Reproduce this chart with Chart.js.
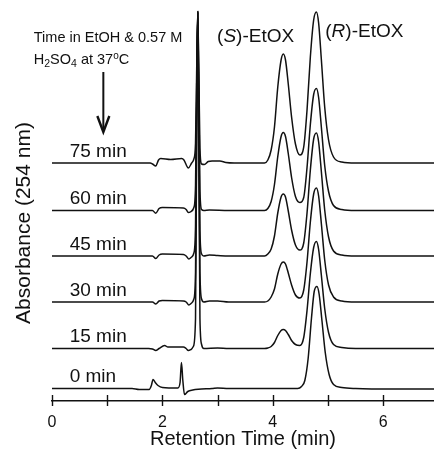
<!DOCTYPE html>
<html>
<head>
<meta charset="utf-8">
<script src="https://cdn.jsdelivr.net/npm/chart.js@4.4.1/dist/chart.umd.min.js"></script>
<style>
  body { margin: 0; background: #fff; }
  canvas { display: block; }
</style>
</head>
<body>
<canvas id="myChart" width="434" height="451"></canvas>
<script>
// sample times in EtOH / H2SO4, bottom trace first
const sampleLabels = ['0 min', '15 min', '30 min', '45 min', '60 min', '75 min'];
// vertical offset of each trace (absorbance, arbitrary units)
const baselines = [12.5, 52.5, 99, 145, 190.5, 238];

// [retention time (min), absorbance above baseline]
const trace0 = [[0,0],[1.45,0],[1.58,-1],[1.76,-1],[1.8,3],[1.83,9],[1.87,6],[1.92,3],[2.0,1],[2.28,0.5],[2.32,6],[2.345,26],[2.37,8],[2.4,-6],[2.46,-3],[2.55,-1.5],[2.65,-0.7],[2.9,0],[3.0,0.5],[3.2,0],[4.45,0],[4.52,2],[4.58,8],[4.64,30],[4.7,70],[4.75,97],[4.8,102],[4.84,94],[4.89,68],[4.95,36],[5.02,14],[5.1,4],[5.25,1],[5.5,0],[6.2,-0.5],[6.92,-0.5]];
const trace15 = [[0,0],[1.75,0],[1.82,-0.5],[1.88,-2],[1.94,0],[2.04,3],[2.1,1.5],[2.38,1.5],[2.43,0],[2.47,-2],[2.52,-1],[2.56,2],[2.6,30],[2.62,200],[2.64,337],[2.66,200],[2.68,30],[2.71,4],[2.75,0],[3.0,0.5],[3.2,0],[3.85,0],[3.91,0.5],[3.97,2],[4.03,6],[4.09,13],[4.15,18],[4.19,19],[4.23,18],[4.28,14],[4.34,8],[4.41,4],[4.49,3],[4.56,11],[4.62,38],[4.68,75],[4.74,101],[4.79,107],[4.83,99],[4.88,73],[4.94,40],[5.01,16],[5.1,4],[5.25,1],[5.5,0],[6.92,0]];
const trace30 = [[0,0],[1.75,0],[1.82,0],[1.88,-2],[1.94,1],[2.0,1.5],[2.38,1],[2.43,0],[2.48,-3],[2.53,-1],[2.57,3],[2.6,30],[2.62,170],[2.64,290],[2.66,170],[2.68,30],[2.71,3],[2.75,0],[2.85,1],[3.0,1],[3.2,0],[3.85,0],[3.91,1],[3.97,5],[4.03,13],[4.09,28],[4.15,38],[4.19,40],[4.23,38],[4.28,29],[4.34,17],[4.41,7],[4.49,4],[4.56,12],[4.62,40],[4.68,80],[4.74,108],[4.79,114],[4.83,106],[4.88,78],[4.94,42],[5.01,17],[5.1,5],[5.25,1],[5.5,0],[6.92,0]];
const trace45 = [[0,0],[1.75,0],[1.82,0],[1.88,-2.5],[1.94,1],[2.0,2],[2.38,1.5],[2.43,0],[2.48,-3],[2.53,-1],[2.57,3],[2.6,30],[2.62,145],[2.64,244],[2.66,145],[2.68,25],[2.71,2],[2.75,0],[2.85,1],[3.0,0.5],[3.2,0],[3.85,0],[3.91,2],[3.97,7],[4.03,20],[4.09,43],[4.15,59],[4.19,62],[4.23,59],[4.28,45],[4.34,26],[4.41,11],[4.49,6],[4.56,13],[4.62,43],[4.68,86],[4.74,117],[4.79,123],[4.83,114],[4.88,84],[4.94,46],[5.01,19],[5.1,5],[5.25,1],[5.5,0],[6.92,0]];
const trace60 = [[0,0],[1.75,0],[1.82,0],[1.88,-2.7],[1.94,2],[2.0,3],[2.38,2.5],[2.43,1],[2.47,-2],[2.52,-1],[2.57,3],[2.6,25],[2.62,120],[2.64,199],[2.66,120],[2.68,20],[2.71,1],[2.75,0],[2.85,0.5],[3.2,0],[3.85,0],[3.91,2],[3.97,9],[4.03,26],[4.09,54],[4.15,74],[4.19,78],[4.23,74],[4.28,57],[4.34,33],[4.41,14],[4.49,8],[4.56,13],[4.62,43],[4.68,86],[4.74,116],[4.79,122],[4.83,113],[4.88,83],[4.94,45],[5.01,19],[5.1,5],[5.25,1],[5.5,0],[6.92,0]];
const trace75 = [[0,0],[1.78,0],[1.82,-1],[1.88,-3],[1.93,3],[1.97,4.5],[2.15,3.5],[2.35,4.5],[2.39,3],[2.47,-5],[2.53,0],[2.57,4],[2.6,20],[2.62,90],[2.64,151],[2.66,90],[2.68,15],[2.71,-1],[2.76,-1.5],[2.83,1.5],[2.9,2],[3.04,2],[3.15,0.5],[3.3,0],[3.85,0],[3.91,3],[3.97,13],[4.03,36],[4.09,76],[4.15,103],[4.19,109],[4.23,103],[4.28,79],[4.34,46],[4.41,19],[4.49,8],[4.56,16],[4.62,53],[4.68,106],[4.74,143],[4.79,151],[4.83,140],[4.88,103],[4.94,56],[5.01,23],[5.1,6],[5.25,1],[5.5,0],[6.92,0]];
const traces = [trace0, trace15, trace30, trace45, trace60, trace75];

const xTicks = [0, 1, 2, 3, 4, 5, 6];
const xTickLabels = ['0', '', '2', '', '4', '', '6'];

const FONT = "'Liberation Sans', Arial, Helvetica, sans-serif";
const INK = '#111';

function drawRuns(ctx, x, y, runs) {
    // draws a line of mixed text (italic, sub/superscript) left to right
    runs.forEach(r => {
        ctx.font = (r.italic ? 'italic ' : '') + r.size + 'px ' + FONT;
        ctx.fillText(r.t, x, y + (r.dy || 0));
        x += ctx.measureText(r.t).width;
    });
}

const annotations = {
    id: 'annotations',
    afterDraw(chart) {
        const ctx = chart.ctx;
        const xs = chart.scales.x;
        const ys = chart.scales.y;
        ctx.save();
        ctx.fillStyle = INK;
        ctx.strokeStyle = INK;

        // crossing tick marks on the time axis
        ctx.lineWidth = 1.4;
        xTicks.forEach(t => {
            const px = Math.round(xs.getPixelForValue(t)) + 0.5;
            ctx.beginPath();
            ctx.moveTo(px, xs.top - 6);
            ctx.lineTo(px, xs.top + 5);
            ctx.stroke();
        });

        // trace labels
        ctx.textAlign = 'left';
        ctx.textBaseline = 'alphabetic';
        ctx.font = '19px ' + FONT;
        sampleLabels.forEach((lab, i) => {
            ctx.fillText(lab, xs.getPixelForValue(0.32), ys.getPixelForValue(baselines[i] + 6.5));
        });

        // enantiomer peak labels
        drawRuns(ctx, xs.getPixelForValue(2.99), ys.getPixelForValue(359), [
            {t: '(', size: 19}, {t: 'S', size: 19, italic: true}, {t: ')-EtOX', size: 19}]);
        drawRuns(ctx, xs.getPixelForValue(4.95), ys.getPixelForValue(364), [
            {t: '(', size: 19}, {t: 'R', size: 19, italic: true}, {t: ')-EtOX', size: 19}]);

        // conditions note
        const nx = xs.getPixelForValue(-0.33);
        drawRuns(ctx, nx, ys.getPixelForValue(359), [{t: 'Time in EtOH & 0.57 M', size: 14.5}]);
        drawRuns(ctx, nx, ys.getPixelForValue(337.5), [
            {t: 'H', size: 14.5}, {t: '2', size: 10.5, dy: 3.5}, {t: 'SO', size: 14.5},
            {t: '4', size: 10.5, dy: 3.5}, {t: ' at 37', size: 14.5}, {t: 'o', size: 10, dy: -5},
            {t: 'C', size: 14.5}]);

        // arrow
        const ax = xs.getPixelForValue(0.93);
        const aTop = ys.getPixelForValue(329);
        const aTip = ys.getPixelForValue(269);
        ctx.lineWidth = 2;
        ctx.beginPath();
        ctx.moveTo(ax, aTop);
        ctx.lineTo(ax, aTip - 3);
        ctx.stroke();
        ctx.lineWidth = 2.4;
        ctx.lineJoin = 'miter';
        ctx.beginPath();
        ctx.moveTo(ax - 6, aTip - 16);
        ctx.lineTo(ax, aTip);
        ctx.lineTo(ax + 6, aTip - 16);
        ctx.stroke();

        // y axis title
        ctx.translate(xs.left - 22, ys.getPixelForValue(178));
        ctx.rotate(-Math.PI / 2);
        ctx.textAlign = 'center';
        ctx.font = '21px ' + FONT;
        ctx.fillText('Absorbance (254 nm)', 0, 0);
        ctx.restore();
    }
};

var chrt = document.getElementById('myChart');

var chart = new Chart(chrt, {
    type: 'line',
    data: {
        datasets: traces.map((tr, i) => ({
            label: sampleLabels[i],
            data: tr.map(p => ({x: p[0], y: baselines[i] + p[1]})),
            borderColor: INK,
            borderWidth: 1.5,
            pointRadius: 0,
            cubicInterpolationMode: 'monotone',
            fill: false
        }))
    },
    options: {
        responsive: false,
        animation: false,
        devicePixelRatio: 1,
        layout: { padding: { left: 52, right: 0, top: 0, bottom: 0 } },
        plugins: {
            legend: { display: false },
            tooltip: { enabled: false }
        },
        scales: {
            x: {
                type: 'linear',
                min: 0,
                max: 6.92,
                afterFit: s => { s.height = 50; },
                afterBuildTicks: s => { s.ticks = xTicks.map(v => ({value: v})); },
                grid: { display: false, drawTicks: false },
                border: { display: true, color: INK, width: 1.5 },
                ticks: {
                    autoSkip: false,
                    maxRotation: 0,
                    padding: 12,
                    color: INK,
                    font: { family: FONT, size: 16 },
                    callback: (v, idx) => xTickLabels[idx]
                },
                title: {
                    display: true,
                    text: 'Retention Time (min)',
                    color: INK,
                    font: { family: FONT, size: 20 },
                    padding: 0
                }
            },
            y: {
                display: false,
                min: 0,
                max: 401
            }
        }
    },
    plugins: [annotations]
});
</script>
</body>
</html>
